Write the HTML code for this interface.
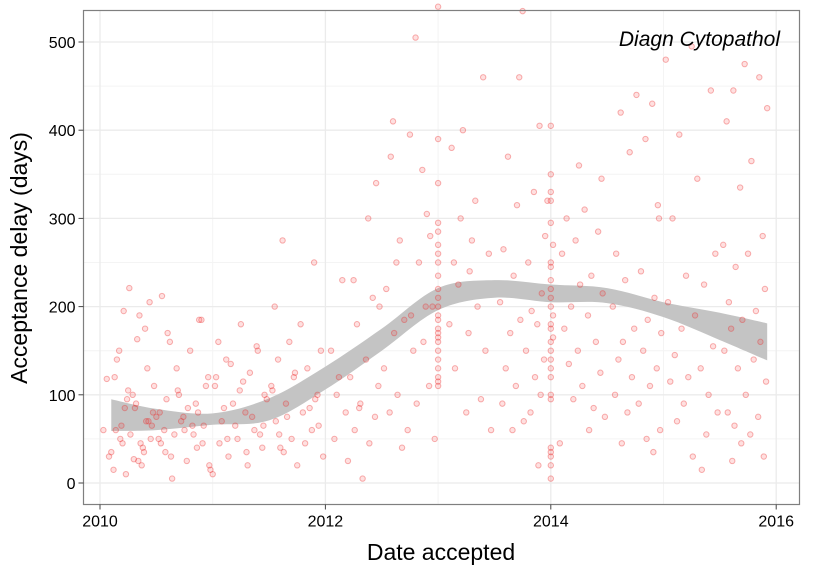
<!DOCTYPE html>
<html><head><meta charset="utf-8"><style>
body{margin:0;background:#fff;}
svg{display:block;font-family:"Liberation Sans",Arial,sans-serif;}
</style></head><body>
<svg id="chart" width="825" height="570" viewBox="0 0 825 570">
<rect x="0" y="0" width="825" height="570" fill="#fff"/>
<g id="grid"></g>
<g id="ribbon"></g>
<g id="pts"></g>
<rect x="83.5" y="10.5" width="716" height="494" fill="none" stroke="#7f7f7f" stroke-width="1.2"/>
<g id="axes"></g>
<text x="780" y="46" text-anchor="end" font-size="21" font-style="italic" fill="#000">Diagn Cytopathol</text>
<text x="441" y="560" text-anchor="middle" font-size="23" fill="#000">Date accepted</text>
<text transform="translate(27,258) rotate(-90)" text-anchor="middle" font-size="23" fill="#000">Acceptance delay (days)</text>
</svg>
<script>
const xTicks=[2010,2012,2014,2016];
const yTicks=[0,100,200,300,400,500];
const ribYears=[2010.1,2010.5,2011,2011.5,2012,2012.5,2013,2013.5,2014,2014.5,2015,2015.5,2015.92];
const ribUpper=[95,84,79,96,132,175,221,230,225,221,205,193,181];
const ribLower=[59,60,66,71,106,150,196,210,205,204,188,162,139];
const ptYears=[
2010.30,2010.06,2010.45,2010.12,2010.38,2010.03,2010.22,2010.48,2010.15,2010.33,2010.26,2010.41,2010.10,2010.36,2010.19,2010.47,2010.24,2010.29,2010.42,2010.17,2010.40,2010.35,2010.21,2010.44,2010.14,2010.27,2010.50,2010.32,2010.08,2010.37,2010.20,2010.46,2010.25,2010.13,2010.43,2010.31,2010.18,2010.39,2010.23,2010.34,
2010.55,2010.88,2010.62,2010.96,2010.70,2010.53,2010.82,2010.66,2010.91,2010.58,2010.77,2010.98,2010.64,2010.85,2010.72,2010.57,2010.94,2010.68,2010.80,2010.60,2010.90,2010.74,2010.52,2010.86,2010.63,2010.97,2010.78,2010.59,2010.92,2010.69,2010.83,2010.54,2010.75,2010.87,
2011.25,2011.05,2011.40,2011.12,2011.33,2011.02,2011.46,2011.18,2011.29,2011.08,2011.37,2011.22,2011.44,2011.14,2011.31,2011.00,2011.27,2011.48,2011.10,2011.35,2011.20,2011.42,2011.06,2011.30,2011.16,2011.39,2011.03,2011.24,2011.45,2011.13,
2011.62,2011.90,2011.55,2011.78,2011.68,2011.96,2011.58,2011.84,2011.72,2011.52,2011.93,2011.65,2011.80,2011.56,2011.88,2011.70,2011.60,2011.98,2011.75,2011.53,2011.86,2011.66,2011.94,2011.59,2011.82,2011.73,2011.63,2011.91,
2012.15,2012.42,2012.28,2012.05,2012.36,2012.22,2012.47,2012.10,2012.31,2012.18,2012.44,2012.26,2012.08,2012.39,2012.20,2012.33,2012.45,2012.38,2012.25,2012.48,2012.12,2012.30,
2012.75,2012.58,2012.90,2012.66,2012.83,2012.54,2012.95,2012.70,2012.61,2012.87,2012.78,2012.52,2012.92,2012.64,2012.81,2012.57,2012.73,2012.97,2012.68,2012.80,2012.60,2012.86,2012.93,2012.63,2012.89,2012.76,
2013.00,2013.00,2013.00,2013.00,2013.00,2013.00,2013.00,2013.00,2013.00,2013.00,2013.00,2013.00,2013.00,2013.00,2013.00,2013.00,2013.00,2013.00,2013.00,2013.00,2013.00,2013.00,2013.00,2013.00,
2013.40,2013.22,2013.12,2013.30,2013.45,2013.18,2013.35,2013.10,2013.27,2013.42,2013.15,2013.38,2013.25,2013.47,2013.20,2013.33,2013.14,2013.28,
2013.75,2013.90,2013.62,2013.85,2013.70,2013.95,2013.58,2013.80,2013.67,2013.92,2013.55,2013.83,2013.73,2013.88,2013.64,2013.78,2013.94,2013.60,2013.86,2013.69,2013.91,2013.57,2013.82,2013.76,2013.66,2013.89,2013.72,2013.97,
2014.00,2014.00,2014.00,2014.00,2014.00,2014.00,2014.00,2014.00,2014.00,2014.00,2014.00,2014.00,2014.00,2014.00,2014.00,2014.00,2014.00,2014.00,2014.00,2014.00,2014.00,2014.00,2014.00,2014.00,2014.00,2014.02,2014.02,2014.02,
2014.30,2014.14,2014.42,2014.22,2014.10,2014.36,2014.26,2014.46,2014.18,2014.33,2014.12,2014.40,2014.24,2014.16,2014.44,2014.28,2014.20,2014.38,2014.48,2014.34,2014.08,2014.25,2014.45,
2014.76,2014.90,2014.62,2014.84,2014.70,2014.96,2014.58,2014.80,2014.66,2014.92,2014.55,2014.86,2014.74,2014.98,2014.64,2014.82,2014.60,2014.94,2014.72,2014.88,2014.57,2014.78,2014.68,2014.97,2014.85,2014.63,2014.91,2014.95,
2015.25,2015.02,2015.42,2015.14,2015.30,2015.08,2015.46,2015.20,2015.36,2015.04,2015.28,2015.16,2015.44,2015.10,2015.33,2015.22,2015.06,2015.40,2015.18,2015.48,2015.12,2015.38,2015.26,2015.34,
2015.72,2015.85,2015.62,2015.92,2015.56,2015.78,2015.68,2015.88,2015.53,2015.75,2015.64,2015.90,2015.58,2015.82,2015.70,2015.60,2015.86,2015.54,2015.80,2015.66,2015.91,2015.73,2015.57,2015.84,2015.63,2015.77,2015.69,2015.89,2015.61
];
const ptDays=[
27,118,50,15,40,60,85,110,140,163,221,70,35,45,65,80,95,100,130,150,175,190,195,205,60,55,75,90,30,20,45,65,105,120,70,85,50,35,10,25,
212,185,160,120,100,80,65,55,45,35,25,15,5,90,70,60,110,130,150,170,185,75,50,40,30,20,85,95,65,105,55,45,60,80,
180,160,150,140,125,110,100,90,80,70,60,50,40,30,20,10,115,95,85,75,65,55,45,35,135,155,120,105,65,50,
275,250,200,180,160,150,140,130,120,110,100,90,80,70,60,50,40,30,20,105,85,75,65,55,45,125,35,95,
230,210,180,150,140,120,110,100,90,80,75,60,50,45,25,5,340,300,230,200,120,85,
395,370,305,275,250,220,200,185,170,160,150,130,110,100,90,80,60,50,40,505,410,355,280,250,200,190,
540,390,340,295,285,270,260,250,235,220,210,200,190,185,175,170,165,160,150,140,130,120,115,110,
460,400,380,275,260,225,200,180,170,150,130,95,80,60,300,320,250,240,
535,405,370,330,315,280,265,250,235,215,205,195,185,180,170,150,140,130,120,110,100,90,80,70,60,20,460,320,
405,350,330,320,295,250,245,230,220,210,200,180,175,160,150,140,130,120,100,95,40,35,30,20,5,270,190,165,
310,300,285,275,260,235,225,215,200,190,175,160,150,135,125,110,95,85,75,60,45,360,345,
440,430,420,390,375,300,260,240,230,210,200,185,175,170,160,150,140,130,120,110,100,90,80,60,50,45,35,315,
495,480,445,395,345,300,260,235,225,205,190,175,155,145,130,120,115,100,90,80,70,55,30,15,
475,460,445,425,410,365,335,280,270,260,245,220,205,195,185,175,160,150,140,130,115,100,80,75,65,55,45,30,25
];
const NS='http://www.w3.org/2000/svg';
const X0=83.5,X1=799.5,Y0=10.5,Y1=504.5;
function sx(v){return 100+(v-2010)*112.7;}
function sy(v){return 483-v*0.882;}
function mk(tag,attrs,parent){const e=document.createElementNS(NS,tag);for(const k in attrs)e.setAttribute(k,attrs[k]);parent.appendChild(e);return e;}
const grid=document.getElementById('grid'),axes=document.getElementById('axes');
mk('rect',{x:X0,y:Y0,width:X1-X0,height:Y1-Y0,fill:'#fff'},grid);
for(let i=0;i<xTicks.length-1;i++){const m=(xTicks[i]+xTicks[i+1])/2;const l=mk('line',{x1:sx(m),x2:sx(m),y1:Y0,y2:Y1,stroke:'#f4f4f4','stroke-width':1},grid);

}
for(let i=0;i<yTicks.length;i++){const m=yTicks[i]+50;if(sy(m)>Y0){const l=mk('line',{x1:X0,x2:X1,y1:sy(m),y2:sy(m),stroke:'#f4f4f4','stroke-width':1},grid);

}}
xTicks.forEach(t=>{const x=sx(t);const l=mk('line',{x1:x,x2:x,y1:Y0,y2:Y1,stroke:'#ebebeb','stroke-width':1.3},grid);


const tk=mk('line',{x1:x,x2:x,y1:Y1,y2:Y1+5,stroke:'#444','stroke-width':1},axes);


const tx=mk('text',{x:x,y:Y1+22,'text-anchor':'middle','font-size':16,fill:'#000'},axes);tx.textContent=t;

});
yTicks.forEach(t=>{const y=sy(t);const l=mk('line',{x1:X0,x2:X1,y1:y,y2:y,stroke:'#ebebeb','stroke-width':1.3},grid);


const tk=mk('line',{x1:X0-5,x2:X0,y1:y,y2:y,stroke:'#444','stroke-width':1},axes);


const tx=mk('text',{x:X0-8,y:y+6,'text-anchor':'end','font-size':16,fill:'#000'},axes);tx.textContent=t;

});
const pts=document.getElementById('pts');
for(let i=0;i<ptYears.length;i++){const c=mk('circle',{cx:sx(ptYears[i]),cy:sy(ptDays[i]),r:2.7,fill:'rgba(255,0,0,0.12)',stroke:'rgba(235,50,50,0.38)','stroke-width':1},pts);

}
function smooth(P,start){let d=start?('M'+P[0][0]+' '+P[0][1]):('L'+P[0][0]+' '+P[0][1]);
for(let i=0;i<P.length-1;i++){const p0=P[Math.max(i-1,0)],p1=P[i],p2=P[i+1],p3=P[Math.min(i+2,P.length-1)];
const c1=[p1[0]+(p2[0]-p0[0])/6,p1[1]+(p2[1]-p0[1])/6],c2=[p2[0]-(p3[0]-p1[0])/6,p2[1]-(p3[1]-p1[1])/6];
d+='C'+c1[0]+' '+c1[1]+' '+c2[0]+' '+c2[1]+' '+p2[0]+' '+p2[1];}return d;}
const up=ribYears.map((yr,i)=>[sx(yr),sy(ribUpper[i])]);
const lo=ribYears.map((yr,i)=>[sx(yr),sy(ribLower[i])]).reverse();
const d=smooth(up,true)+smooth(lo,false)+'Z';
const rb=mk('path',{d:d,fill:'#c4c4c4',stroke:'none'},document.getElementById('ribbon'));


</script>
</body></html>
